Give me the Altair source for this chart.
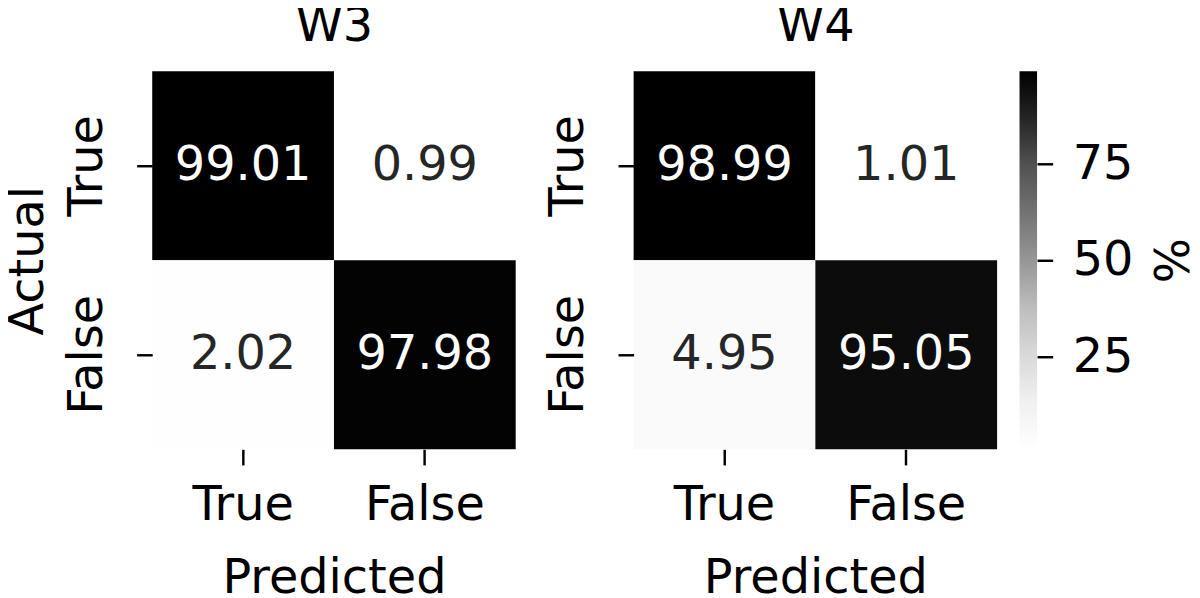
import altair as alt
import pandas as pd

# ---- data ----
order = ["True", "False"]
actual = ["True", "True", "False", "False"]
predicted = ["True", "False", "True", "False"]
w3_values = [99.01, 0.99, 2.02, 97.98]
w4_values = [98.99, 1.01, 4.95, 95.05]
cbar_ticks = [25, 50, 75]
greys = ["#ffffff", "#f0f0f0", "#d9d9d9", "#bdbdbd", "#969696",
         "#737373", "#525252", "#252525", "#000000"]

FONT = "DejaVu Sans"
FS = 49
W, H = 373, 388
TOP_PAD = 22


def ramp(vmin, vmax):
    n = len(greys) - 1
    return [vmin + (vmax - vmin) * i / n for i in range(n + 1)]


def top_title_axis(text):
    return alt.Axis(orient="top", labels=False, ticks=False, domain=False,
                    title=text, titlePadding=TOP_PAD)


def band():
    return alt.Scale(paddingInner=0, paddingOuter=0)


def heat(title, values, show_ytitle):
    df = pd.DataFrame({"actual": actual, "predicted": predicted, "value": values})
    vmin, vmax = min(values), max(values)
    if show_ytitle:
        yax = alt.Y("actual:N", sort=order, title="Actual", scale=band(),
                    axis=alt.Axis(labelAngle=270, labelAlign="center",
                                  labelBaseline="alphabetic", labelPadding=36,
                                  titlePadding=12))
    else:
        yax = alt.Y("actual:N", sort=order, title=None, scale=band(),
                    axis=alt.Axis(labelAngle=270, labelAlign="center",
                                  labelBaseline="alphabetic", labelPadding=36))
    rect = alt.Chart(df).mark_rect().encode(
        x=alt.X("predicted:N", sort=order, title="Predicted", scale=band(),
                axis=alt.Axis(labelAngle=0, labelPadding=17, titlePadding=26)),
        y=yax,
        color=alt.Color("value:Q",
                        scale=alt.Scale(domain=ramp(vmin, vmax), range=greys,
                                        interpolate="rgb"),
                        legend=None),
    )
    text = alt.Chart(df).mark_text(font=FONT, fontSize=FS).encode(
        x=alt.X("predicted:N", sort=order, scale=band(), axis=top_title_axis(title)),
        y=yax,
        text=alt.Text("value:Q", format=".2f"),
        color=alt.condition(alt.datum.value > 50, alt.value("#ffffff"),
                            alt.value("#262626")),
    )
    return alt.layer(rect, text).resolve_axis(x="independent").properties(
        width=W, height=H)


w3 = heat("W3", w3_values, True)
w4 = heat("W4", w4_values, False)

cb_min, cb_max = min(w4_values), max(w4_values)
cbar_df = pd.DataFrame({"lo": [cb_min], "hi": [cb_max]})
cbar = alt.Chart(cbar_df).mark_rect(
    fill=alt.LinearGradient(
        gradient="linear",
        stops=[alt.GradientStop(color=c, offset=i / (len(greys) - 1))
               for i, c in enumerate(greys)],
        x1=0, x2=0, y1=1, y2=0,
    )
).encode(
    x=alt.datum(0, scale=alt.Scale(domain=[0, 1]), axis=top_title_axis(" ")),
    x2=alt.datum(1),
    y=alt.Y("lo:Q", scale=alt.Scale(domain=[cb_min, cb_max], nice=False, zero=False),
            title="%",
            axis=alt.Axis(orient="right", values=cbar_ticks, labelPadding=20,
                          labelBaseline="middle", titlePadding=11)),
    y2="hi:Q",
).properties(width=18, height=H)

right = alt.hconcat(w4, cbar, spacing=23)
chart = alt.hconcat(w3, right, spacing=30).resolve_scale(
    color="independent"
).properties(
    padding={"left": -4, "top": -14, "right": 0, "bottom": 0},
    background="white",
).configure_axis(
    domain=False, grid=False, ticks=True, tickSize=16, tickWidth=2.5,
    tickColor="black", labelFont=FONT, labelFontSize=FS, labelColor="black",
    titleFont=FONT, titleFontSize=FS, titleFontWeight="normal", titleColor="black",
).configure_view(strokeWidth=0)

chart.save("out.html", embed_options={"renderer": "svg", "actions": False})
